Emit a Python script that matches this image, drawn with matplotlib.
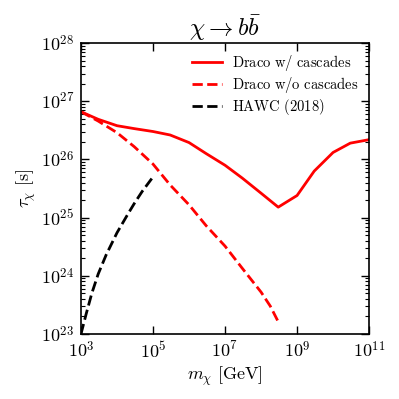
import numpy as np
import matplotlib
matplotlib.use('Agg')
import matplotlib.pyplot as plt
import matplotlib.ticker as mticker

plt.rcParams['mathtext.fontset'] = 'cm'
plt.rcParams['font.family'] = 'serif'
plt.rcParams['font.serif'] = ['DejaVu Serif']

# masses in GeV
mass = [1e3, 3e3, 1e4, 3e4, 1e5, 3e5, 1e6, 3e6, 1e7, 3e7, 1e8, 3e8, 1e9, 3e9, 1e10, 3e10, 1e11]
# log10 of lifetime limits
log_tau_cascades = [26.82, 26.69, 26.58, 26.53, 26.48, 26.42, 26.29, 26.10, 25.90,
                    25.68, 25.42, 25.18, 25.38, 25.80, 26.12, 26.28, 26.34]

mass_nocasc = [1e3, 3e3, 1e4, 3e4, 1e5, 3e5, 1e6, 3e6, 1e7, 3e7, 1e8, 1.8e8, 3e8]
log_tau_nocasc = [26.82, 26.66, 26.46, 26.22, 25.92, 25.56, 25.22, 24.86, 24.51,
                  24.13, 23.72, 23.48, 23.21]

mass_hawc = [1e3, 1.4e3, 2e3, 3e3, 5e3, 1e4, 2e4, 3e4, 5e4, 1e5]
log_tau_hawc = [23.0, 23.35, 23.70, 24.03, 24.36, 24.74, 25.06, 25.24, 25.45, 25.70]

fig = plt.figure(figsize=(3.99, 3.99), dpi=100)
ax = fig.add_axes([0.203, 0.163, 0.722, 0.729])

ax.plot(mass, 10**np.array(log_tau_cascades), color='red', lw=2, label=r'$\mathrm{Draco\ w/\ cascades}$')
ax.plot(mass_nocasc, 10**np.array(log_tau_nocasc), color='red', lw=2, ls='--', label=r'$\mathrm{Draco\ w/o\ cascades}$')
ax.plot(mass_hawc, 10**np.array(log_tau_hawc), color='black', lw=2, ls='--', label=r'$\mathrm{HAWC\ (2018)}$')

ax.set_xscale('log')
ax.set_yscale('log')
ax.set_xlim(1e3, 1e11)
ax.set_ylim(1e23, 1e28)

ax.set_xticks([1e3, 1e5, 1e7, 1e9, 1e11])
ax.xaxis.set_minor_locator(mticker.NullLocator())
fmt = mticker.FuncFormatter(lambda v, p: r'$10^{%d}$' % round(np.log10(v)))
ax.xaxis.set_major_formatter(fmt)
ax.yaxis.set_major_formatter(fmt)

ax.tick_params(which='both', direction='in', top=True, right=True, labelsize=13)
ax.tick_params(which='major', length=6, width=1, pad=5)
ax.tick_params(which='minor', length=3, width=0.8)
for s in ax.spines.values():
    s.set_linewidth(1.2)

ax.set_xlabel(r'$m_\chi\ [\mathrm{GeV}]$', fontsize=13, labelpad=2)
ax.set_ylabel(r'$\tau_\chi\ [\mathrm{s}]$', fontsize=13, labelpad=2)
ax.set_title(r'$\chi \to b\bar{b}$', fontsize=17.5, pad=3)

ax.legend(loc='upper right', frameon=False, fontsize=10.5, handlelength=2.05,
          handletextpad=0.7, borderaxespad=0.3, labelspacing=0.12)

fig.savefig('out.png', dpi=100)
